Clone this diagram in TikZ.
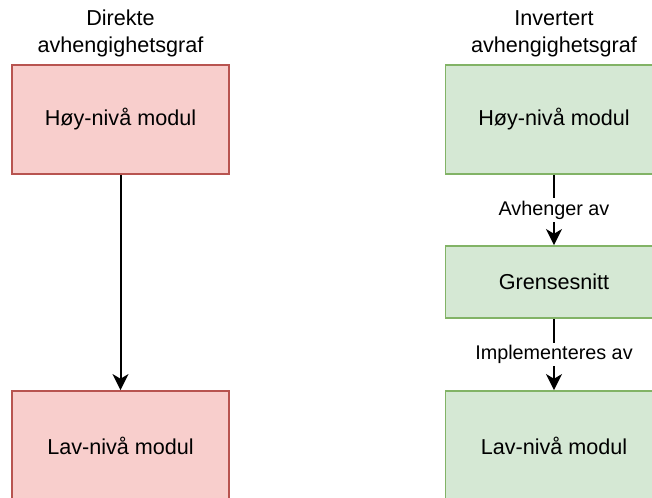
\documentclass[tikz,border=0pt]{standalone}
\usepackage{fontspec}
\setmainfont{Liberation Sans}
\usetikzlibrary{arrows.meta}

\definecolor{redfill}{HTML}{F8CECC}
\definecolor{redline}{HTML}{B85450}
\definecolor{greenfill}{HTML}{D5E8D4}
\definecolor{greenline}{HTML}{82B366}

\begin{document}
\begin{tikzpicture}[x=0.75pt, y=-0.75pt,
  box/.style={draw, line width=1.4pt, minimum width=162.75pt, inner sep=0pt,
    font=\fontsize{16.2}{20.25}\selectfont},
  redbox/.style={box, fill=redfill, draw=redline, minimum height=81.75pt},
  greenbox/.style={box, fill=greenfill, draw=greenline, minimum height=81.75pt},
  greenflat/.style={box, fill=greenfill, draw=greenline, minimum height=54pt},
  title/.style={align=center, font=\fontsize{16.2}{20.25}\selectfont},
  dep/.style={-{Stealth[length=12pt, width=12pt, inset=3.5pt]}, line width=1.5pt},
  lbl/.style={fill=white, inner sep=2pt, font=\fontsize{14.85}{18}\selectfont}]
  \useasboundingbox (0,0) rectangle (652,497);
  \clip (0,0) rectangle (652,497);

  % direkte
  \node[title] (t1) at (120.5,33.5) {Direkte\\avhengighetsgraf};
  \node[redbox] (h1) at (120.5,119.5) {Høy-nivå modul};
  \node[redbox] (l1) at (120.5,445.5) {Lav-nivå modul};
  \draw[dep] (h1) -- (l1);

  % invertert
  \node[title] (t2) at (554,33.5) {Invertert\\avhengighetsgraf};
  \node[greenbox] (h2) at (554,119.5) {Høy-nivå modul};
  \node[greenflat] (g2) at (554,282) {Grensesnitt};
  \node[greenbox] (l2) at (554,445.5) {Lav-nivå modul};
  \draw[dep] (h2) -- node[lbl] {Avhenger av} (g2);
  \draw[dep] (g2) -- node[lbl] {Implementeres av} (l2);
\end{tikzpicture}
\end{document}
